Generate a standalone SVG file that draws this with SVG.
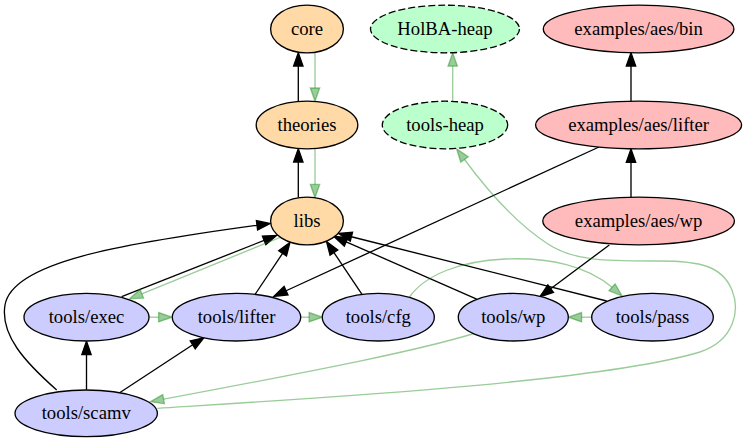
<svg xmlns="http://www.w3.org/2000/svg" width="747" height="443" viewBox="0 0 747 443">
<style>
.node ellipse{stroke:#000;stroke-width:1.33}
.or ellipse{fill:#ffdaa6}
.gr ellipse{fill:#bbffcc;stroke-dasharray:7,3}
.pk ellipse{fill:#ffbbbb}
.bl ellipse{fill:#ccccff}
text{font-family:'Liberation Serif','DejaVu Serif',serif;font-size:18.67px;text-anchor:middle;fill:#000}
.k{fill:none;stroke:#000;stroke-width:1.33}
.ka{fill:#000;stroke:#000;stroke-width:1.33}
.g{fill:none;stroke:#008000;stroke-opacity:.4;stroke-width:1.33}
.ga{fill:#008000;fill-opacity:.4;stroke:#008000;stroke-opacity:.4;stroke-width:1.33}
</style>
<rect width="747" height="443" fill="#fff"/>
<g id="connectors">
<path class="k" d="M298.3,101.5 L298.3,66"/><polygon class="ka" points="298.3,52.7 293.6,66 303,66"/>
<path class="k" d="M298.3,197.5 L298.3,162"/><polygon class="ka" points="298.3,148.7 293.6,162 303,162"/>
<path class="k" d="M631,101.4 L631,66.1"/><polygon class="ka" points="631,52.8 626.3,66.1 635.7,66.1"/>
<path class="k" d="M631,197.2 L631,162.3"/><polygon class="ka" points="631,149 626.3,162.3 635.7,162.3"/>
<path class="k" d="M599,147 L286.1,290.75"/><polygon class="ka" points="274,296.3 284.1,286.5 288,295"/>
<path class="k" d="M609.3,245 L550.66,288.75"/><polygon class="ka" points="540,296.7 547.87,285 553.45,292.5"/>
<path class="k" d="M121.7,296.7 L264.13,240.39"/><polygon class="ka" points="276.5,235.5 265.85,244.73 262.41,236.05"/>
<path class="k" d="M255,294.5 L282.59,253.35"/><polygon class="ka" points="290,242.3 286.47,255.95 278.71,250.75"/>
<path class="k" d="M362,294.3 L333.92,252.54"/><polygon class="ka" points="326.5,241.5 337.8,249.93 330.04,255.15"/>
<path class="k" d="M476.7,299.1 L346.18,241.84"/><polygon class="ka" points="334,236.5 348.06,237.56 344.3,246.12"/>
<path class="k" d="M606.7,301 L351.4,236.75"/><polygon class="ka" points="338.5,233.5 352.54,232.22 350.26,241.28"/>
<path class="k" d="M86.5,389.7 L86.5,354.5"/><polygon class="ka" points="86.5,341.2 81.83,354.5 91.17,354.5"/>
<path class="k" d="M120,392.5 L192.74,344.78"/><polygon class="ka" points="204,337.7 195.23,348.73 190.25,340.83"/>
<path class="k" d="M56.7,390 C25,362 0,335 5,305 C12,262 120,244 257,225.3"/><polygon class="ka" points="270.3,223.5 257.6,229.9 256.4,220.7"/>
<path class="g" d="M315,52.4 L315,88"/><polygon class="ga" points="315,101.3 310.3,88 319.7,88"/>
<path class="g" d="M315,148.7 L315,184.4"/><polygon class="ga" points="315,197.7 310.3,184.4 319.7,184.4"/>
<path class="g" d="M452.7,101.3 L452.7,66.2"/><polygon class="ga" points="452.7,52.9 448,66.2 457.4,66.2"/>
<path class="g" d="M280,237.5 L141.82,293.78"/><polygon class="ga" points="129.5,298.8 143.58,298.1 140.06,289.46"/>
<path class="g" d="M149,317.2 L158.6,317.2"/><polygon class="ga" points="171.9,317.2 158.6,312.5 158.6,321.9"/>
<path class="g" d="M300.5,317.2 L309.1,317.2"/><polygon class="ga" points="322.4,317.2 309.1,312.5 309.1,321.9"/>
<path class="g" d="M591.7,317.2 L581.6,317.2"/><polygon class="ga" points="568.3,317.2 581.6,312.5 581.6,321.9"/>
<path class="g" d="M409.5,297 C425,275 460,261 505,259 C550,257 588,266.5 612,287.3"/><polygon class="ga" points="622.05,296 608.94,290.83 615.06,283.77"/>
<path class="g" d="M157.3,408.3 C320,398 600,382 700,352 C735,340 740,310 732,290 C722,266 700,261 660,261 C610,261 575,262 548,244 C520,226 490,194 464.5,159.5"/><polygon class="ga" points="456.6,148.8 468.25,156.73 460.75,162.27"/>
<path class="g" d="M474,333.5 C420,350 330,368 163.6,399.2"/><polygon class="ga" points="150.5,401.65 164.46,403.79 162.74,394.61"/>
</g>
<g id="core" class="node or"><ellipse cx="307" cy="29" rx="36.4" ry="23.8"/><text x="307" y="34.7">core</text></g>
<g id="HolBA-heap" class="node gr"><ellipse cx="445" cy="29" rx="74.5" ry="23.8"/><text x="445" y="34.7">HolBA-heap</text></g>
<g id="examples-aes-bin" class="node pk"><ellipse cx="638.6" cy="29" rx="95.3" ry="23.8"/><text x="638.6" y="34.7">examples/aes/bin</text></g>
<g id="theories" class="node or"><ellipse cx="307" cy="125" rx="50.8" ry="23.8"/><text x="307" y="130.7">theories</text></g>
<g id="tools-heap" class="node gr"><ellipse cx="445" cy="125" rx="62.7" ry="23.8"/><text x="445" y="130.7">tools-heap</text></g>
<g id="examples-aes-lifter" class="node pk"><ellipse cx="638.6" cy="125" rx="103" ry="23.8"/><text x="638.6" y="130.7">examples/aes/lifter</text></g>
<g id="libs" class="node or"><ellipse cx="307" cy="221" rx="36.4" ry="23.8"/><text x="307" y="226.7">libs</text></g>
<g id="examples-aes-wp" class="node pk"><ellipse cx="638.6" cy="221" rx="95.8" ry="23.8"/><text x="638.6" y="226.7">examples/aes/wp</text></g>
<g id="tools-exec" class="node bl"><ellipse cx="86.5" cy="317.2" rx="62.5" ry="23.8"/><text x="86.5" y="322.9">tools/exec</text></g>
<g id="tools-lifter" class="node bl"><ellipse cx="236.5" cy="317.2" rx="64.2" ry="23.8"/><text x="236.5" y="322.9">tools/lifter</text></g>
<g id="tools-cfg" class="node bl"><ellipse cx="378.3" cy="317.2" rx="56" ry="23.8"/><text x="378.3" y="322.9">tools/cfg</text></g>
<g id="tools-wp" class="node bl"><ellipse cx="513.3" cy="317.2" rx="55" ry="23.8"/><text x="513.3" y="322.9">tools/wp</text></g>
<g id="tools-pass" class="node bl"><ellipse cx="652.5" cy="317.2" rx="60.8" ry="23.8"/><text x="652.5" y="322.9">tools/pass</text></g>
<g id="tools-scamv" class="node bl"><ellipse cx="86.2" cy="413.3" rx="71.2" ry="23.3"/><text x="86.2" y="419">tools/scamv</text></g>
</svg>
